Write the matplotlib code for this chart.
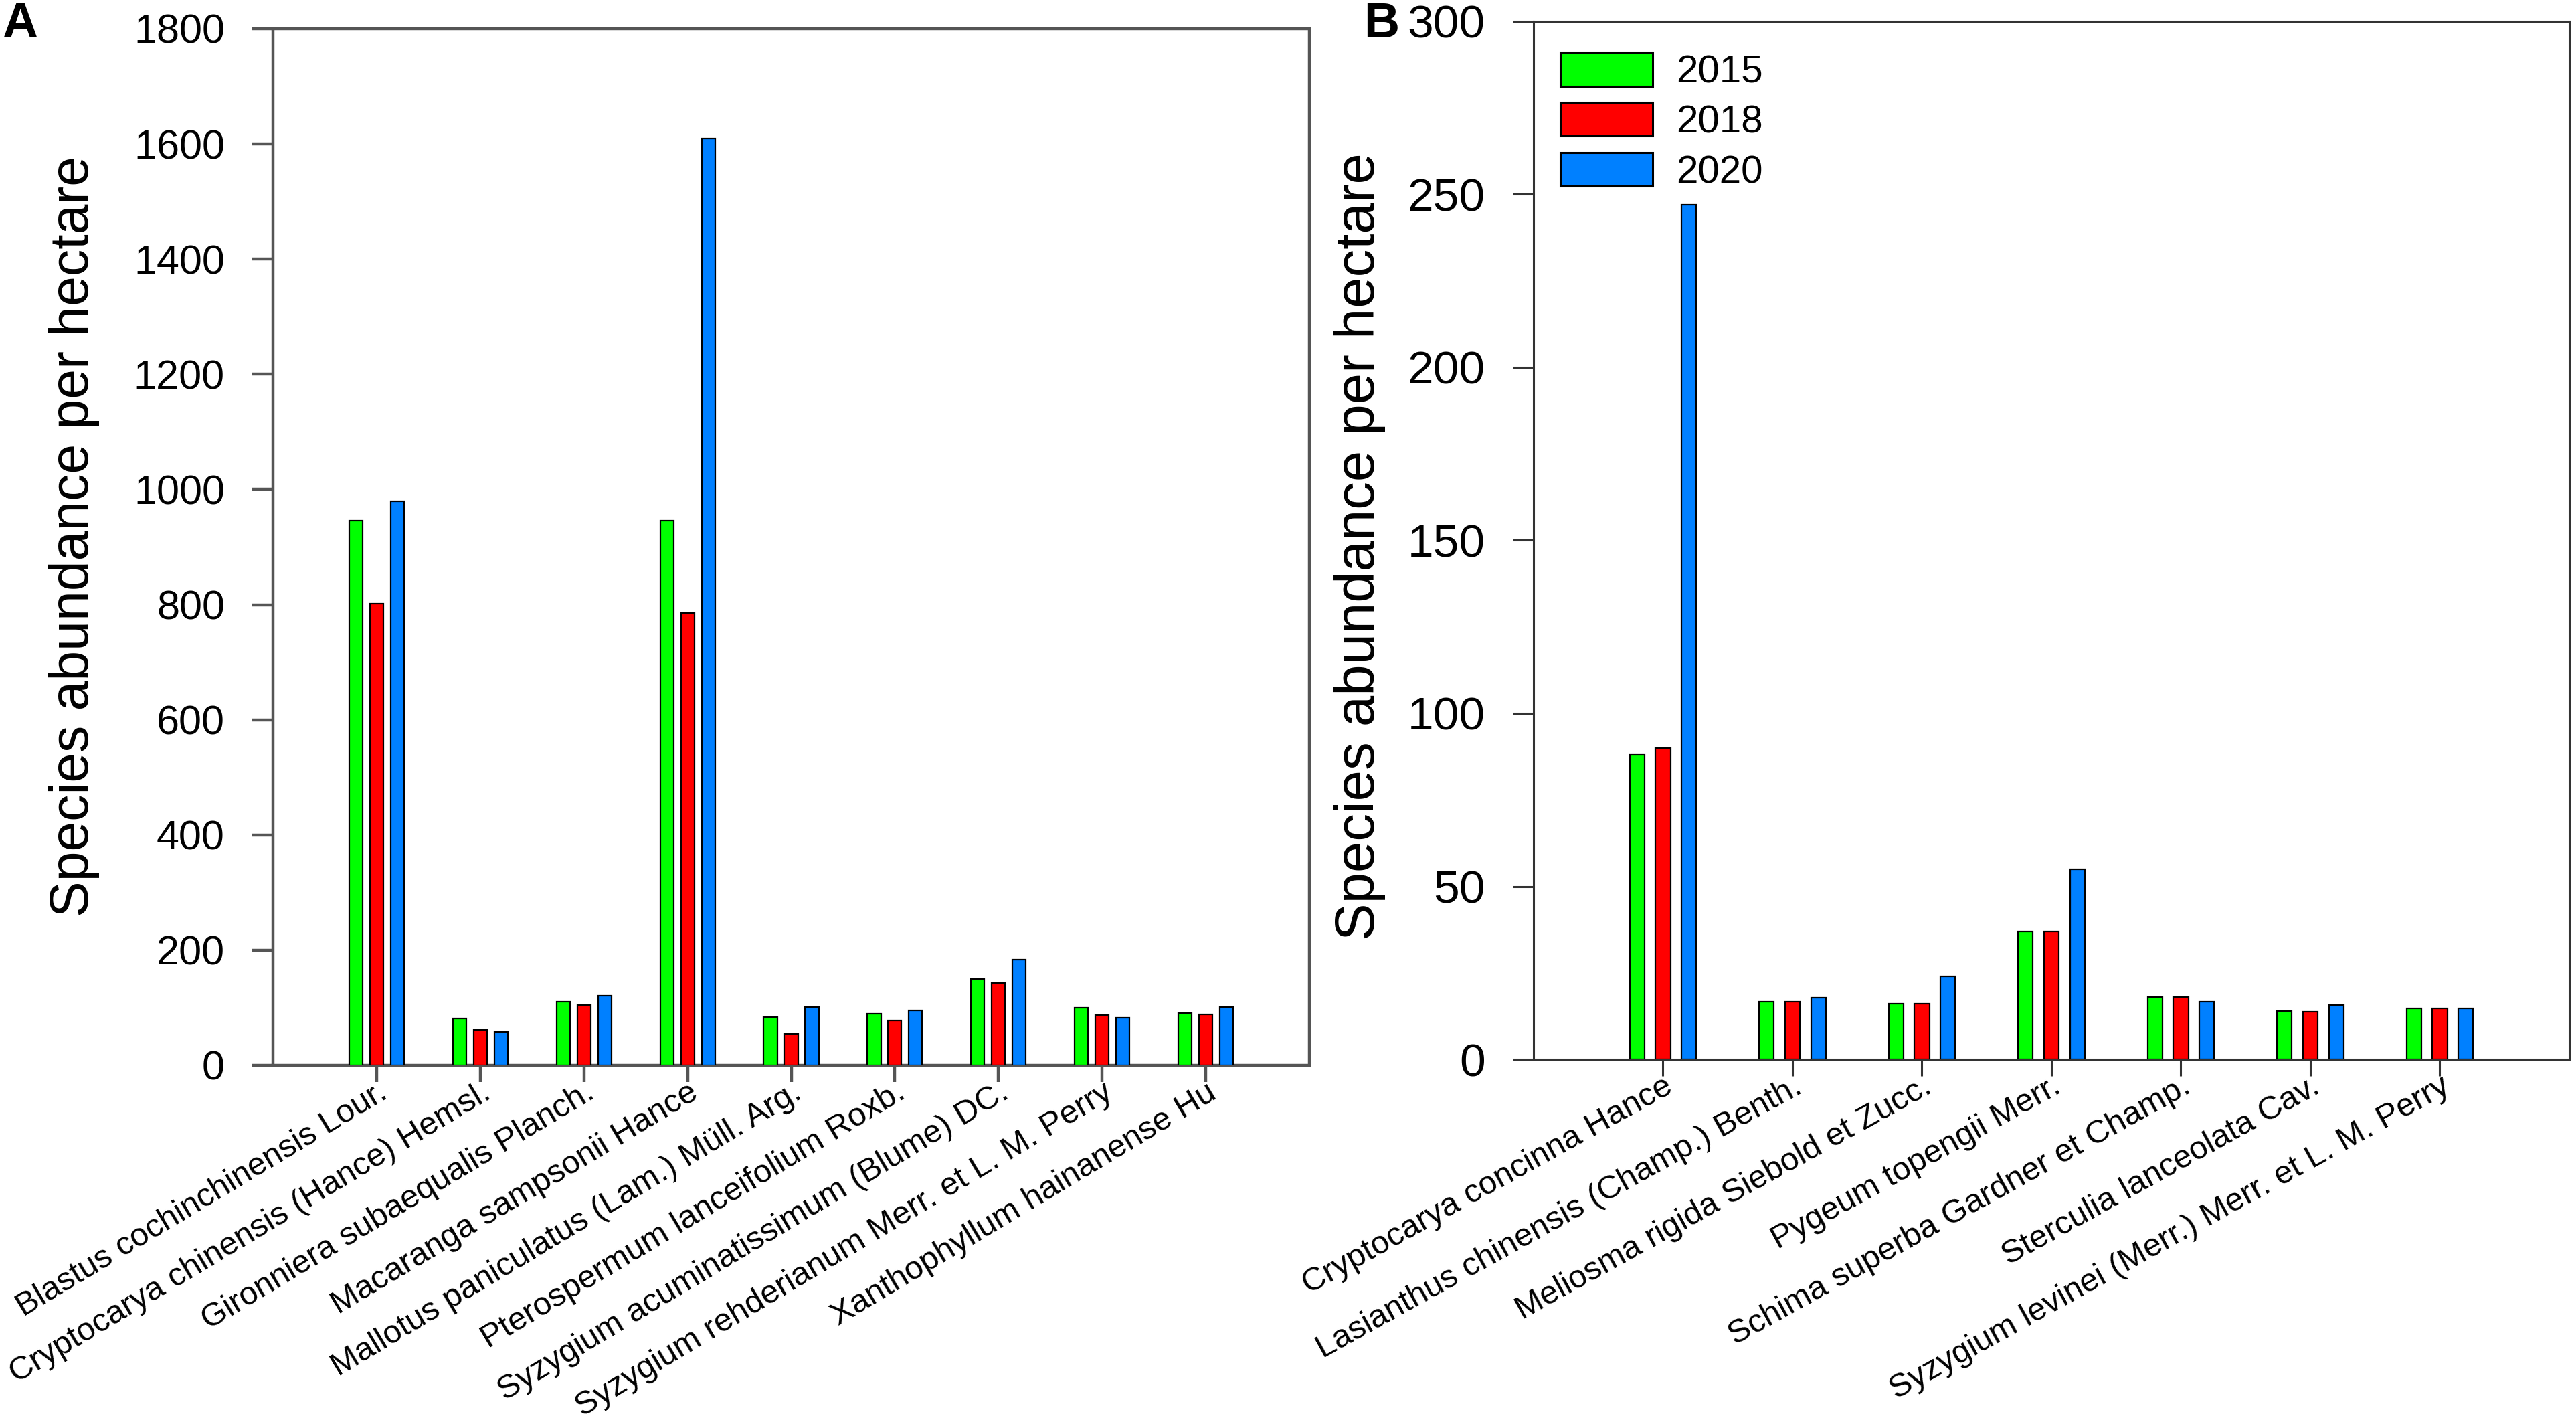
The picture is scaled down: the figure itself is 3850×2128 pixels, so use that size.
import matplotlib
matplotlib.use("Agg")
import matplotlib.pyplot as plt
import numpy as np

plt.rcParams['font.family'] = ['Liberation Sans', 'DejaVu Sans']

years = ["2015", "2018", "2020"]
colors = ["#00FF00", "#FF0000", "#0080FF"]

species_a = [
    "Blastus cochinchinensis Lour.",
    "Cryptocarya chinensis (Hance) Hemsl.",
    "Gironniera subaequalis Planch.",
    "Macaranga sampsonii Hance",
    "Mallotus paniculatus (Lam.) Müll. Arg.",
    "Pterospermum lanceifolium Roxb.",
    "Syzygium acuminatissimum (Blume) DC.",
    "Syzygium rehderianum Merr. et L. M. Perry",
    "Xanthophyllum hainanense Hu",
]
a_2015 = [946, 81, 110, 946, 84, 90, 150, 100, 91]
a_2018 = [802, 62, 104, 786, 54, 78, 143, 87, 88]
a_2020 = [979, 58, 121, 1609, 101, 95, 183, 83, 101]

species_b = [
    "Cryptocarya concinna Hance",
    "Lasianthus chinensis (Champ.) Benth.",
    "Meliosma rigida Siebold et Zucc.",
    "Pygeum topengii Merr.",
    "Schima superba Gardner et Champ.",
    "Sterculia lanceolata Cav.",
    "Syzygium levinei (Merr.) Merr. et L. M. Perry",
]
b_2015 = [88, 16.7, 16, 37, 18, 14, 14.7]
b_2018 = [90, 16.7, 16, 37, 18, 13.8, 14.7]
b_2020 = [247, 17.8, 24, 55, 16.7, 15.7, 14.7]

fig = plt.figure(figsize=(38.5, 21.28), dpi=100)
ax_a = fig.add_axes([0.106, 0.2519, 0.4023, 0.7279])
ax_b = fig.add_axes([0.5953, 0.2561, 0.4021, 0.7289])


def draw_panel(ax, names, series, width, ymax, yticks, rot, spine_color, lw,
               ysize, labsize):
    x = np.arange(len(names))
    offsets = [-0.2, 0.0, 0.2]
    for vals, off, c, yr in zip(series, offsets, colors, years):
        ax.bar(x + off, vals, width, color=c, edgecolor="black",
               linewidth=1.6, label=yr, zorder=3)
    ax.set_xlim(-1, len(names))
    ax.set_ylim(0, ymax)
    ax.set_yticks(yticks)
    ax.set_xticks(x)
    ax.set_xticklabels(names, rotation=rot, ha="right", rotation_mode="anchor",
                       fontsize=35)
    ax.tick_params(axis="y", direction="out", length=22, width=lw,
                   color=spine_color, labelsize=ysize, pad=30)
    ax.tick_params(axis="x", direction="out", length=18, width=lw,
                   color=spine_color, pad=-5)
    for s in ax.spines.values():
        s.set_color(spine_color)
        s.set_linewidth(lw)
    ax.set_ylabel("Species abundance per hectare", fontsize=labsize)


draw_panel(ax_a, species_a, [a_2015, a_2018, a_2020], 0.13, 1800,
           np.arange(0, 1801, 200), 31, "#555555", 3.2, 44, 58)
ax_a.yaxis.set_label_coords(-0.167, 0.51)

draw_panel(ax_b, species_b, [b_2015, b_2018, b_2020], 0.115, 300,
           np.arange(0, 301, 50), 29, "#333333", 2.2, 50, 60)
ax_b.yaxis.set_label_coords(-0.143, 0.494)

leg = ax_b.legend(loc="upper left", bbox_to_anchor=(0.026, 0.970),
                  frameon=False, fontsize=42, handlelength=2.36,
                  handleheight=0.95, handletextpad=0.6, labelspacing=0.3,
                  borderpad=0, borderaxespad=0)
for h in leg.legend_handles:
    h.set_linewidth(2.2)

fig.text(0.0008, 0.999, "A", fontsize=53, fontweight="bold", ha="left", va="top")
fig.text(0.5295, 0.999, "B", fontsize=53, fontweight="bold", ha="left", va="top")

fig.savefig("out.png", dpi=100)
